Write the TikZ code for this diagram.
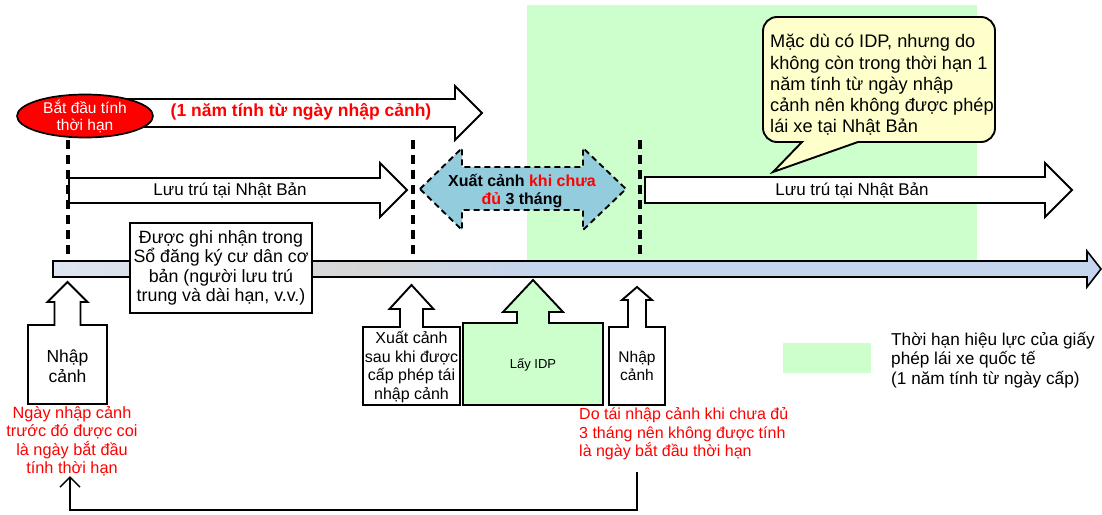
\documentclass[tikz,border=0pt]{standalone}
\usepackage{fontspec}
\setmainfont{Liberation Sans}
\usetikzlibrary{arrows.meta,shapes.geometric}

\definecolor{idpgreen}{HTML}{CCFFCC}
\definecolor{tipyellow}{HTML}{FFFFCC}
\definecolor{tripblue}{HTML}{93CDDD}
\definecolor{lineL}{HTML}{DDE4F2}
\definecolor{lineM}{HTML}{D6D6D6}
\definecolor{lineR}{HTML}{C5D5EE}
\definecolor{alertred}{HTML}{FF0000}

% timeline bar: bluish grey -> grey -> blue
\pgfdeclarehorizontalshading{timelineshade}{100bp}{color(0bp)=(lineL); color(25bp)=(lineL); color(40bp)=(lineM); color(47.5bp)=(lineR); color(100bp)=(lineR)}

% up-pointing arrow callout: style, centre x, tip y, head base y,
% box top y, box bottom y, box half width, stem half width, head half width
\newcommand\upcallout[9]{%
  \draw[#1] ({#2-#7},#6) -- ({#2-#7},#5) -- ({#2-#8},#5) -- ({#2-#8},#4)
    -- ({#2-#9},#4) -- (#2,#3) -- ({#2+#9},#4) -- ({#2+#8},#4)
    -- ({#2+#8},#5) -- ({#2+#7},#5) -- ({#2+#7},#6) -- cycle;}

\tikzset{
  blockarrow/.style={draw=black, fill=white, line width=1.9pt, line join=miter},
  callout/.style={draw=black, fill=white, line width=1.9pt, line join=miter},
  marker/.style={draw=black, line width=3.2pt, dash pattern=on 9pt off 6pt},
  txt/.style={inner sep=0pt, align=center, font=\fontsize{17}{20}\selectfont},
  redtxt/.style={inner sep=0pt, text=alertred, font=\fontsize{16.3}{18.5}\selectfont},
  connector/.style={draw=black, line width=1.5pt, -{Straight Barb[length=10pt,width=20pt,line width=1.5pt]}}
}

\begin{document}
\begin{tikzpicture}[x=1pt,y=-1pt]
\useasboundingbox (0,0) rectangle (1102,514);

% validity period of the international driving permit
\fill[idpgreen] (527,5) rectangle (977,261);

% markers for entry / exit dates
\draw[marker] (68,140) -- (68,260);
\draw[marker] (413,140) -- (413,260);
\draw[marker] (640,140) -- (640,260);

% time axis
\draw[shading=timelineshade, draw=black, line width=1.6pt, line join=miter]
  (53,261) -- (1087,261) -- (1087,251) -- (1101,269) -- (1087,287)
  -- (1087,277) -- (53,277) -- cycle;

% one year counted from the entry date
\draw[blockarrow] (120,99) -- (455,99) -- (455,86) -- (482,113) -- (455,140)
  -- (455,127) -- (120,127) -- cycle;
\node[ellipse, draw=black, fill=red, line width=1.7pt, minimum width=136pt,
  minimum height=43pt, inner sep=0pt] (startoval) at (85,116) {};
\node[txt, text=white, font=\fontsize{15.5}{17}\selectfont] (starttext)
  at (startoval.center) {Bắt đầu tính\\thời hạn};
\node[txt, text=alertred, font=\bfseries\fontsize{17.5}{20}\selectfont] (yearlabel)
  at (301,112) {(1 năm tính từ ngày nhập cảnh)};

% stay in Japan (before departure)
\draw[blockarrow] (69,178) -- (380,178) -- (380,163) -- (407,190) -- (380,217)
  -- (380,203) -- (69,203) -- cycle;
\node[txt] (stayleft) at (230,190) {Lưu trú tại Nhật Bản};

% stay in Japan (after re-entry)
\draw[blockarrow] (645,177) -- (1045,177) -- (1045,163) -- (1072,190) -- (1045,217)
  -- (1045,203) -- (645,203) -- cycle;
\node[txt] (stayright) at (852,190) {Lưu trú tại Nhật Bản};

% trip abroad shorter than three months
\draw[fill=tripblue, draw=black, line width=1.9pt, dash pattern=on 6pt off 4pt, line join=miter]
  (420,189) -- (462,148) -- (462,167) -- (583,167) -- (583,148) -- (626,189)
  -- (583,230) -- (583,210) -- (462,210) -- (462,230) -- cycle;
\node[txt, font=\bfseries\fontsize{16}{18}\selectfont] (triplabel) at (522,191)
  {Xuất cảnh \textcolor{alertred}{khi chưa}\\\textcolor{alertred}{đủ} 3 tháng};

% resident registration note
\node[draw=black, fill=white, line width=1.7pt, minimum width=182pt, minimum height=90pt,
  inner sep=0pt, align=center, font=\fontsize{17.8}{19.5}\selectfont] (register) at (221,268)
  {Được ghi nhận trong\\Sổ đăng ký cư dân cơ\\bản (người lưu trú\\trung và dài hạn, v.v.)};

% events on the time axis
\upcallout{callout}{67.5}{282}{302}{325}{404}{39.5}{13}{20}
\node[txt, font=\fontsize{17.5}{20.5}\selectfont] (entryone) at (67.5,366) {Nhập\\cảnh};

\upcallout{callout}{411.5}{285}{309}{327}{405}{48.5}{11.5}{22}
\node[txt, font=\fontsize{16}{18.5}\selectfont] (exitrep) at (411.5,367)
  {Xuất cảnh\\sau khi được\\cấp phép tái\\nhập cảnh};

\upcallout{callout, fill=idpgreen}{533}{280}{312}{323}{405}{70}{16}{30}
\node[txt, font=\fontsize{13}{15}\selectfont] (getidp) at (533,365) {Lấy IDP};

\upcallout{callout}{637}{287}{300}{327}{405}{28}{9}{15}
\node[txt, font=\fontsize{15.5}{17.5}\selectfont] (entrytwo) at (637,366) {Nhập\\cảnh};

% explanations in red
\node[redtxt, align=center] (noteleft) at (72,441)
  {Ngày nhập cảnh\\trước đó được coi\\là ngày bắt đầu\\tính thời hạn};
\node[redtxt, align=left, anchor=west, font=\fontsize{16}{18.5}\selectfont] (noteright) at (579,434)
  {Do tái nhập cảnh khi chưa đủ\\3 tháng nên không được tính\\là ngày bắt đầu thời hạn};

% the earlier entry date is kept as the start
\coordinate (connstart) at (637,472);
\coordinate (connend) at (70,476);
\draw[connector] (connstart) -- ++(0,38) -| (connend);

% speech bubble
\draw[fill=tipyellow, draw=black, line width=1.9pt, line join=miter]
  (858,142) -- (981,142) .. controls (988.7,142) and (995,135.7) .. (995,128)
  -- (995,31) .. controls (995,23.3) and (988.7,17) .. (981,17)
  -- (777,17) .. controls (769.3,17) and (763,23.3) .. (763,31)
  -- (763,128) .. controls (763,135.7) and (769.3,142) .. (777,142)
  -- (802,142) -- (773,172) -- cycle;
\node[txt, align=left, anchor=west, font=\fontsize{18.2}{21.3}\selectfont] (bubbletext) at (770,85)
  {Mặc dù có IDP, nhưng do\\không còn trong thời hạn 1\\năm tính từ ngày nhập\\cảnh nên không được phép\\lái xe tại Nhật Bản};

% legend
\fill[idpgreen] (783,343) rectangle (871,373);
\node[txt, align=left, anchor=west, font=\fontsize{17.2}{19.5}\selectfont] (legendtext) at (891,360)
  {Thời hạn hiệu lực của giấy\\phép lái xe quốc tế\\(1 năm tính từ ngày cấp)};
\end{tikzpicture}
\end{document}
